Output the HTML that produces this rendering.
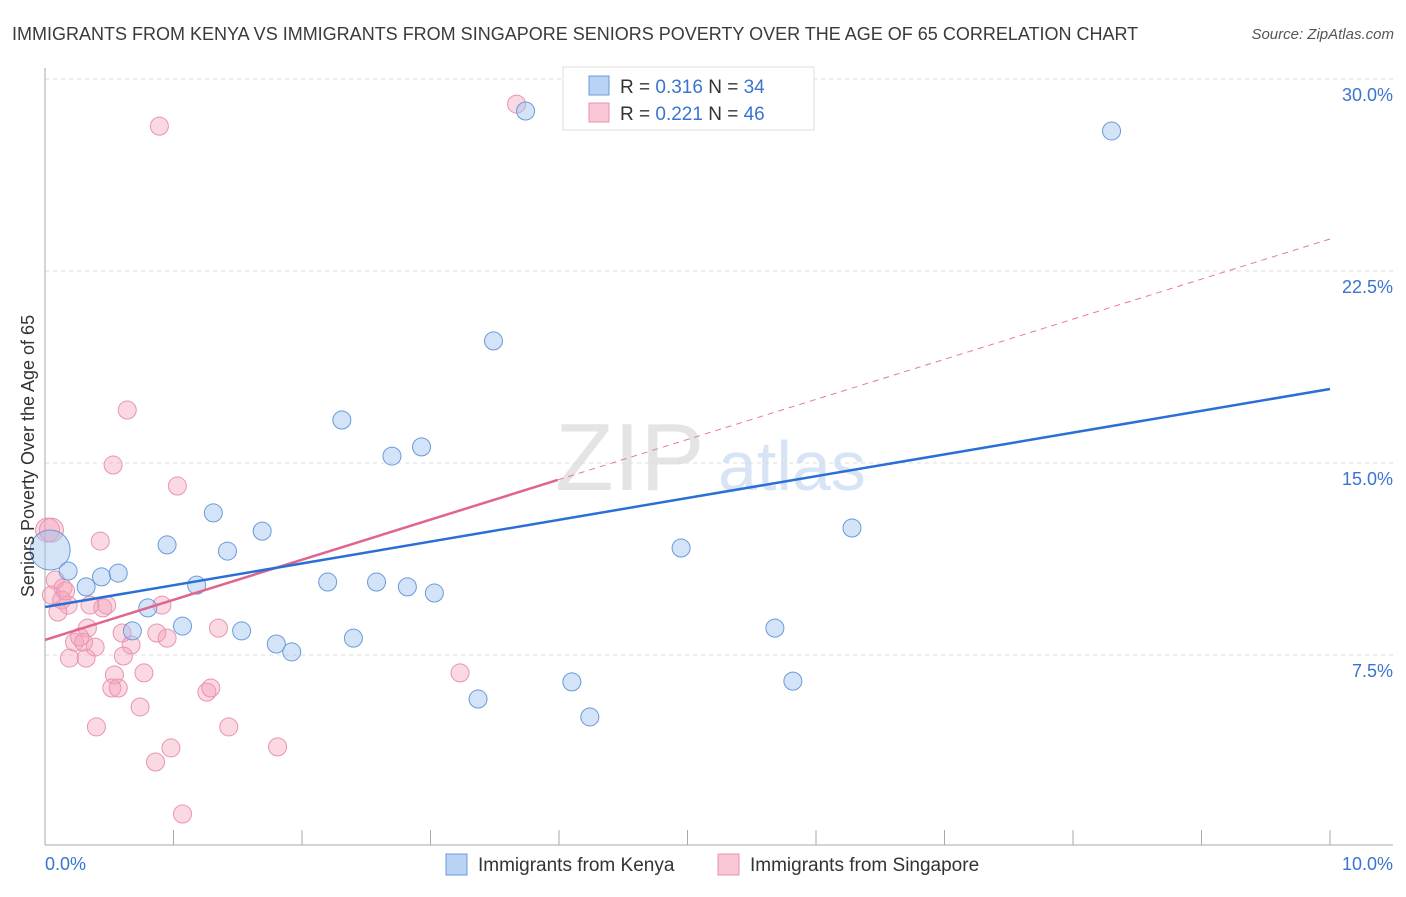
<!DOCTYPE html>
<html><head><meta charset="utf-8"><style>
body{margin:0;background:#fff;font-family:"Liberation Sans",sans-serif;}
svg text{font-family:"Liberation Sans",sans-serif;}
</style></head><body>
<svg id="chart" width="1406" height="892" xmlns="http://www.w3.org/2000/svg">
<text x="12" y="40" font-size="18" fill="#3a3a3a">IMMIGRANTS FROM KENYA VS IMMIGRANTS FROM SINGAPORE SENIORS POVERTY OVER THE AGE OF 65 CORRELATION CHART</text>
<text x="1394" y="39" font-size="15" fill="#555" font-style="italic" text-anchor="end">Source: ZipAtlas.com</text>
<g>
<text x="555" y="490" font-size="96" font-family="Liberation Serif,serif" fill="#e4e4e4">ZIP</text>
<text x="718" y="490" font-size="70" fill="#d6e4f5">atlas</text>
</g>
<g id="grid"></g>
<g id="axes"></g>
<g id="marks"></g>
<text transform="translate(34,456) rotate(-90)" font-size="18" fill="#333" text-anchor="middle">Seniors Poverty Over the Age of 65</text>
<g>
<rect x="563" y="67" width="251" height="63" fill="#fff" stroke="#ddd"/>
<rect x="589" y="76" width="20" height="19" fill="#b8d3f3" stroke="#6e9ad8"/>
<text x="620" y="93" font-size="19" fill="#333">R = <tspan fill="#3a74d0">0.316</tspan>   N = <tspan fill="#3a74d0">34</tspan></text>
<rect x="589" y="103" width="20" height="19" fill="#f8c6d4" stroke="#e793ac"/>
<text x="620" y="120" font-size="19" fill="#333">R = <tspan fill="#3a74d0">0.221</tspan>   N = <tspan fill="#3a74d0">46</tspan></text>
</g>
<g>
<rect x="446" y="854" width="21" height="21" fill="#b8d3f3" stroke="#6e9ad8"/>
<text x="478" y="871" font-size="19" fill="#333">Immigrants from Kenya</text>
<rect x="718" y="854" width="21" height="21" fill="#f8c6d4" stroke="#e793ac"/>
<text x="750" y="871" font-size="19" fill="#333">Immigrants from Singapore</text>
</g>
</svg>
<script>
const yTicks=[7.5,15,22.5,30];
const yTickLabels=["7.5%","15.0%","22.5%","30.0%"];
const xTicks=[0,1,2,3,4,5,6,7,8,9,10];
const xTickLabels=["0.0%","10.0%"];
const kenyaX=[0.04,0.18,0.32,0.44,0.57,0.80,0.68,0.95,1.07,1.18,1.31,1.42,1.53,1.69,1.80,1.92,2.20,2.31,2.40,2.58,2.70,2.82,2.93,3.03,3.37,3.49,3.74,4.10,4.24,4.95,5.68,5.82,6.28,8.30];
const kenyaY=[11.6,10.78,10.16,10.55,10.70,9.34,8.44,11.80,8.63,10.23,13.05,11.56,8.44,12.34,7.93,7.62,10.35,16.68,8.16,10.35,15.27,10.16,15.63,9.92,5.78,19.77,28.75,6.45,5.08,11.68,8.55,6.48,12.46,27.97];
const singX=[0.02,0.05,0.43,0.08,0.14,0.05,0.13,0.18,0.10,0.35,0.45,0.48,0.33,0.23,0.30,0.39,0.19,0.32,0.60,0.67,0.61,0.87,0.95,0.91,0.54,0.52,0.57,0.77,0.74,0.40,0.98,0.86,1.07,1.35,1.26,1.29,1.43,1.81,0.64,0.53,1.03,0.89,3.67,3.23,0.27,0.16];
const singY=[12.38,12.38,11.95,10.43,10.12,9.84,9.65,9.45,9.18,9.45,9.34,9.45,8.55,8.0,8.0,7.81,7.38,7.38,8.36,7.89,7.46,8.36,8.16,9.45,6.72,6.21,6.21,6.8,5.47,4.69,3.87,3.32,1.29,8.55,6.05,6.21,4.69,3.91,17.07,14.92,14.1,28.16,29.02,6.8,8.2,10.0];
const kenyaLine=[9.375,17.89];
const singLine=[8.09,23.75];
const singSolidEnd=3.99;
const NS="http://www.w3.org/2000/svg";
const X=v=>45+v*128.5, Y=v=>847-v*25.6;
function mk(tag,attrs,parent){const e=document.createElementNS(NS,tag);for(const k in attrs)e.setAttribute(k,attrs[k]);parent.appendChild(e);return e;}
const grid=document.getElementById('grid'),axes=document.getElementById('axes'),marks=document.getElementById('marks');
yTicks.forEach((t,i)=>{
 const l=mk('line',{x1:45,x2:1393,y1:Y(t),y2:Y(t),stroke:'#ddd','stroke-dasharray':'4,4'},grid);
 
 
 const tx=mk('text',{x:1393,y:Y(t)+22,'font-size':18,fill:'#3a74d0','text-anchor':'end'},axes);
 tx.textContent=yTickLabels[i];
 
 
});
let a=mk('line',{x1:45,x2:45,y1:68,y2:845,stroke:'#aaa'},axes);


a=mk('line',{x1:45,x2:1393,y1:845,y2:845,stroke:'#aaa'},axes);


xTicks.forEach(t=>{
 const l=mk('line',{x1:X(t),x2:X(t),y1:830,y2:845,stroke:'#aaa'},axes);
 
 
});
let t0=mk('text',{x:45,y:870,'font-size':18,fill:'#3a74d0'},axes);t0.textContent=xTickLabels[0];


let t1=mk('text',{x:1393,y:870,'font-size':18,fill:'#3a74d0','text-anchor':'end'},axes);t1.textContent=xTickLabels[1];


singX.forEach((x,i)=>{
 const c=mk('circle',{cx:X(x),cy:Y(singY[i]),r:(i<2?12:9),fill:'rgba(244,160,185,0.4)',stroke:'#e795ae','stroke-width':1},marks);
 
 
});
kenyaX.forEach((x,i)=>{
 const c=mk('circle',{cx:X(x),cy:Y(kenyaY[i]),r:(i==0?20:9),fill:'rgba(160,195,240,0.45)',stroke:'#6a9ad8','stroke-width':1},marks);
 
 
});
const sAt=v=>singLine[0]+(singLine[1]-singLine[0])*v/10;
let ln=mk('line',{x1:X(singSolidEnd),y1:Y(sAt(singSolidEnd)),x2:X(10),y2:Y(singLine[1]),stroke:'#e8789c','stroke-width':1,'stroke-dasharray':'6,5'},marks);


ln=mk('line',{x1:X(0),y1:Y(singLine[0]),x2:X(singSolidEnd),y2:Y(sAt(singSolidEnd)),stroke:'#e0648e','stroke-width':2.5},marks);


ln=mk('line',{x1:X(0),y1:Y(kenyaLine[0]),x2:X(10),y2:Y(kenyaLine[1]),stroke:'#2a6fd6','stroke-width':2.5},marks);


</script>
</body></html>
